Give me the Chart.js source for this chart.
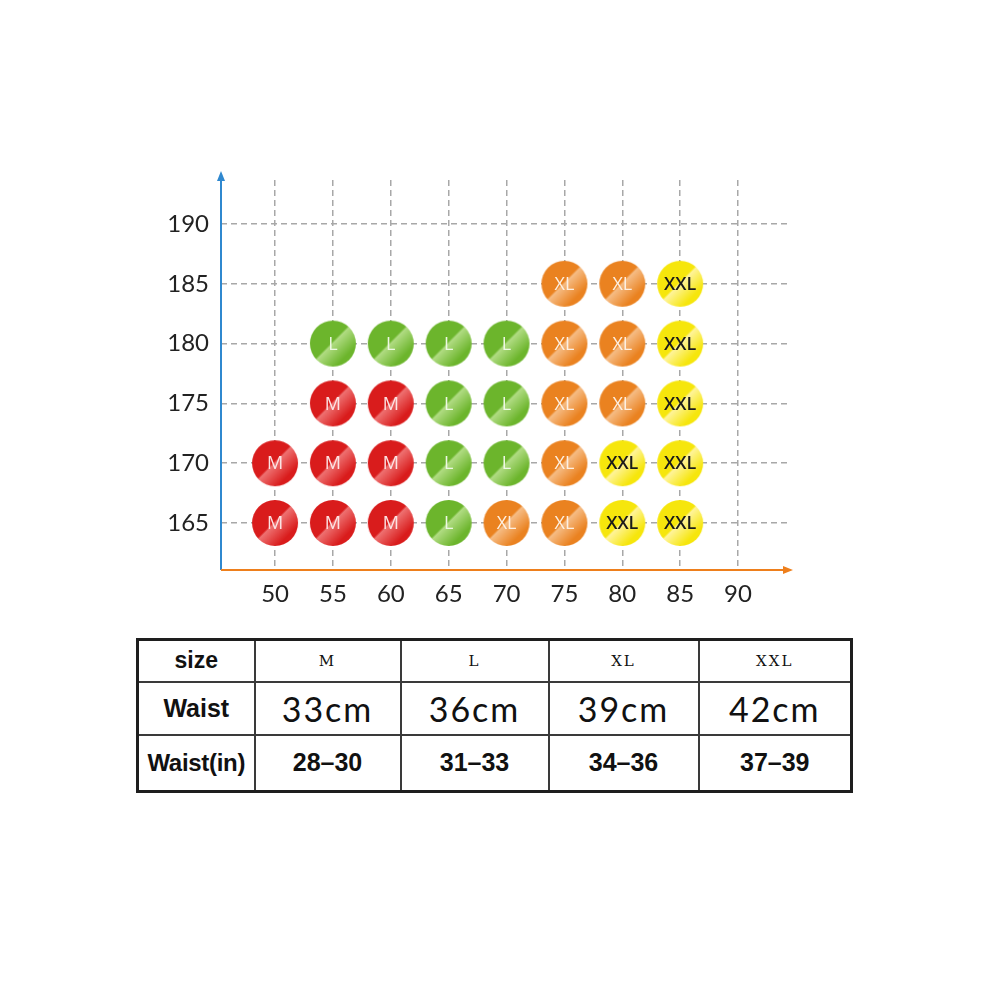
<!DOCTYPE html>
<html>
<head>
<meta charset="utf-8">
<script src="https://cdn.jsdelivr.net/npm/chart.js@4"></script>
<style>
  body { margin: 0; background: #fff; }
  #wrap { position: absolute; left: 0; top: 0; width: 1001px; height: 620px; }
  table.sizes {
    position: absolute; left: 136px; top: 638px; width: 714px; height: 152px;
    border-collapse: collapse; border: 3px solid #1e1e1e; table-layout: fixed;
  }
  table.sizes td { border: 2px solid #3a3a3a; text-align: center; padding: 0; color: #111; }
  .head { font-family: "Liberation Sans", Arial, sans-serif; font-weight: bold; font-size: 23px; }
  .narrow { font-family: "Liberation Sans", Arial, sans-serif; font-weight: bold; font-size: 24px; letter-spacing: -0.3px; }
  .mono { font-family: "DejaVu Serif", "Liberation Serif", serif; font-size: 15px; color: #333; letter-spacing: 2px; }
  .cm { font-family: Lato, "Open Sans", sans-serif; font-size: 34px; color: #222; letter-spacing: 2px; }
  .inch { font-family: "Liberation Sans", Arial, sans-serif; font-weight: bold; font-size: 25px; }
</style>
</head>
<body>
<div id="wrap"><canvas id="sizeChart" width="1001" height="620"></canvas></div>
<table class="sizes" id="sizeTable">
  <colgroup><col style="width:117px"><col style="width:146px"><col style="width:148px"><col style="width:150px"><col style="width:153px"></colgroup>
  <tr style="height:42px"><td class="head">size</td></tr>
  <tr style="height:53px"><td class="head" style="font-size:25px">Waist</td></tr>
  <tr style="height:57px"><td class="narrow">Waist(in)</td></tr>
</table>
<script>
// Size labels and table values
const sizeNames = ['M', 'L', 'XL', 'XXL'];
const waistCm = ['33cm', '36cm', '39cm', '42cm'];
const waistIn = ['28–30', '31–33', '34–36', '37–39'];

// Weight (x) / height (y) of each circle, per size
const mWeight = [50, 55, 60, 50, 55, 60, 55, 60];
const mHeight = [165, 165, 165, 170, 170, 170, 175, 175];
const lWeight = [65, 65, 70, 65, 70, 55, 60, 65, 70];
const lHeight = [165, 170, 170, 175, 175, 180, 180, 180, 180];
const xlWeight = [70, 75, 75, 75, 80, 75, 80, 75, 80];
const xlHeight = [165, 165, 170, 175, 175, 180, 180, 185, 185];
const xxlWeight = [80, 85, 80, 85, 85, 85, 85];
const xxlHeight = [165, 165, 170, 170, 175, 180, 185];

// Axis tick labels
const weightTicks = [50, 55, 60, 65, 70, 75, 80, 85, 90];
const heightTicks = [165, 170, 175, 180, 185, 190];

const sizeColors = {
    M:   { base: '#d91c1c', light: '#ee7070', text: '#fbe3e3' },
    L:   { base: '#6cb52c', light: '#b0dc82', text: '#eef8e4' },
    XL:  { base: '#ea8220', light: '#f6bc84', text: '#fdf0e2' },
    XXL: { base: '#f6e60c', light: '#fff49a', text: '#1a1a1a' }
};

// Fill the table from the arrays
const rows = document.getElementById('sizeTable').rows;
sizeNames.forEach((s, i) => {
    rows[0].insertCell().outerHTML = `<td class="mono">${s}</td>`;
    rows[1].insertCell().outerHTML = `<td class="cm">${waistCm[i]}</td>`;
    rows[2].insertCell().outerHTML = `<td class="inch">${waistIn[i]}</td>`;
});

// Circle sprite with a diagonal shine
function makeBall(col) {
    const r = 23;
    const c = document.createElement('canvas');
    c.width = c.height = r * 2 + 2;
    const g = c.getContext('2d');
    const grad = g.createLinearGradient(1, 1, r * 2 + 1, r * 2 + 1);
    grad.addColorStop(0, col.base);
    grad.addColorStop(0.47, col.base);
    grad.addColorStop(0.5, col.light);
    grad.addColorStop(0.78, col.base);
    grad.addColorStop(1, col.base);
    g.beginPath();
    g.arc(r + 1, r + 1, r, 0, Math.PI * 2);
    g.fillStyle = grad;
    g.fill();
    return c;
}

function toPoints(xs, ys) {
    return xs.map((x, i) => ({ x: x, y: ys[i] }));
}

const seriesData = [
    toPoints(mWeight, mHeight),
    toPoints(lWeight, lHeight),
    toPoints(xlWeight, xlHeight),
    toPoints(xxlWeight, xxlHeight)
];

// Labels inside the circles
const ballLabels = {
    id: 'ballLabels',
    afterDatasetsDraw(chart) {
        const ctx = chart.ctx;
        ctx.save();
        ctx.textAlign = 'center';
        ctx.textBaseline = 'middle';
        chart.data.datasets.forEach((ds, i) => {
            const col = sizeColors[ds.label];
            ctx.fillStyle = col.text;
            ctx.font = (ds.label === 'XXL' ? '600 18px' : '18px') + ' "Open Sans", Lato, sans-serif';
            chart.getDatasetMeta(i).data.forEach(pt => {
                ctx.fillText(ds.label, pt.x, pt.y + 1);
            });
        });
        ctx.restore();
    }
};

// Axis lines with arrow heads
const axisArrows = {
    id: 'axisArrows',
    afterDraw(chart) {
        const ctx = chart.ctx;
        const a = chart.chartArea;
        ctx.save();
        ctx.lineWidth = 2;
        ctx.strokeStyle = '#2f88cf';
        ctx.beginPath();
        ctx.moveTo(a.left, a.bottom);
        ctx.lineTo(a.left, a.top - 4);
        ctx.stroke();
        ctx.fillStyle = '#2f88cf';
        ctx.beginPath();
        ctx.moveTo(a.left, a.top - 9);
        ctx.lineTo(a.left - 4, a.top + 1);
        ctx.lineTo(a.left + 4, a.top + 1);
        ctx.fill();
        ctx.strokeStyle = '#ee7f1c';
        ctx.fillStyle = '#ee7f1c';
        ctx.beginPath();
        ctx.moveTo(a.left, a.bottom);
        ctx.lineTo(a.right + 2, a.bottom);
        ctx.stroke();
        ctx.beginPath();
        ctx.moveTo(a.right + 6, a.bottom);
        ctx.lineTo(a.right - 4, a.bottom - 4);
        ctx.lineTo(a.right - 4, a.bottom + 4);
        ctx.fill();
        ctx.restore();
    }
};

const tickFont = { family: 'Lato, "Open Sans", sans-serif', size: 24 };
const gridOpts = { color: '#a8a8a8', lineWidth: 1.5, drawTicks: false };

new Chart(document.getElementById('sizeChart'), {
    type: 'scatter',
    data: {
        datasets: sizeNames.map((s, i) => ({
            label: s,
            data: seriesData[i],
            pointStyle: makeBall(sizeColors[s]),
            pointRadius: 23,
            pointHoverRadius: 23
        }))
    },
    options: {
        responsive: false,
        animation: false,
        devicePixelRatio: 1,
        layout: { padding: { top: 180, right: 214, left: 0, bottom: 0 } },
        plugins: { legend: { display: false }, tooltip: { enabled: false } },
        scales: {
            x: {
                type: 'linear',
                min: 45.33,
                max: 94.23,
                afterBuildTicks: scale => { scale.ticks = weightTicks.map(v => ({ value: v })); },
                afterFit: scale => { scale.height = 50; },
                grid: gridOpts,
                border: { display: false, dash: [6, 4] },
                ticks: { color: '#222', font: tickFont, padding: 10 }
            },
            y: {
                type: 'linear',
                min: 161.07,
                max: 193.68,
                afterBuildTicks: scale => { scale.ticks = heightTicks.map(v => ({ value: v })); },
                afterFit: scale => { scale.width = 221; },
                grid: gridOpts,
                border: { display: false, dash: [6, 4] },
                ticks: { color: '#222', font: tickFont, padding: 12 }
            }
        }
    },
    plugins: [ballLabels, axisArrows]
});
</script>
</body>
</html>
